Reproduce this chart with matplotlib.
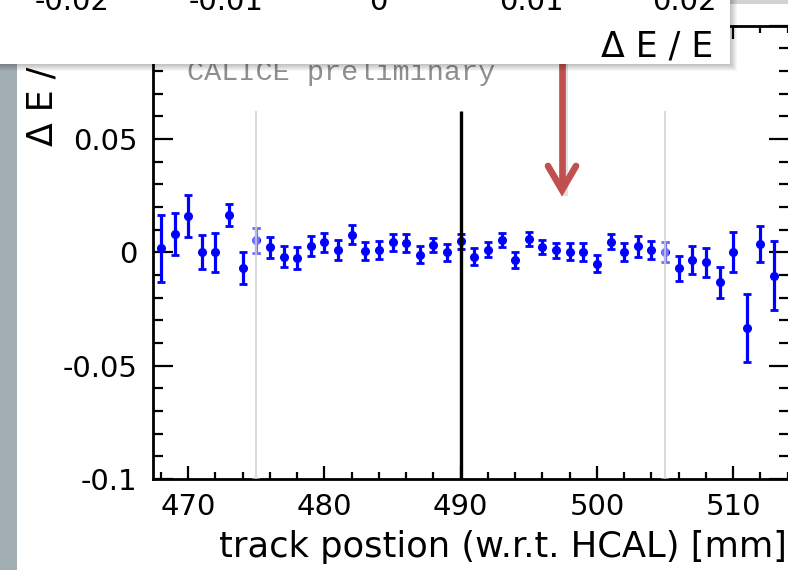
import matplotlib
matplotlib.use('Agg')
import matplotlib.pyplot as plt
from matplotlib.patches import Rectangle
from matplotlib.lines import Line2D
from matplotlib.ticker import MultipleLocator

plt.rcParams['font.family'] = ['DejaVu Sans']
plt.rcParams['axes.unicode_minus'] = False

# ---- data ----
positions = list(range(468, 514))
values = [0.0018, 0.0081, 0.0159, 0.0000, 0.0000, 0.0165, -0.0069, 0.0052,
          0.0022, -0.0019, -0.0026, 0.0026, 0.0044, 0.0008, 0.0078, 0.0004,
          0.0010, 0.0043, 0.0040, -0.0010, 0.0033, 0.0000, 0.0049, -0.0019,
          0.0012, 0.0052, -0.0034, 0.0059, 0.0022, 0.0008, 0.0003, 0.0000,
          -0.0051, 0.0047, 0.0000, 0.0026, 0.0010, 0.0000, -0.0071, -0.0034,
          -0.0044, -0.0132, 0.0000, -0.0334, 0.0037, -0.0103]
errors = [0.0147, 0.0092, 0.0092, 0.0074, 0.0087, 0.0049, 0.0070, 0.0055,
          0.0046, 0.0048, 0.0050, 0.0044, 0.0043, 0.0044, 0.0042, 0.0040,
          0.0039, 0.0039, 0.0041, 0.0039, 0.0032, 0.0037, 0.0033, 0.0037,
          0.0033, 0.0031, 0.0036, 0.0031, 0.0031, 0.0032, 0.0039, 0.0039,
          0.0038, 0.0033, 0.0039, 0.0045, 0.0038, 0.0043, 0.0055, 0.0063,
          0.0063, 0.0068, 0.0088, 0.0149, 0.0079, 0.0153]
center_line = 490
edge_lines = [475, 505]
line_top = 0.0625
xtick_vals = [470, 480, 490, 500, 510]
xtick_labels = ['470', '480', '490', '500', '510']
ytick_vals = [-0.1, -0.05, 0, 0.05, 0.1]
ytick_labels = ['-0.1', '-0.05', '0', '0.05', '0.1']
inset_tick_labels = ['-0.02', '-0.01', '0', '0.01', '0.02']

W, H = 788, 570
def fx(px):
    return px / W
def fy(py):
    return 1 - py / H

fig = plt.figure(figsize=(W / 100, H / 100), dpi=100)
fig.patch.set_facecolor('white')

# slide background strip at left
fig.patches.append(Rectangle((0, 0), fx(17), 1, transform=fig.transFigure,
                             facecolor='#a3adb4', edgecolor='none', zorder=-5))
fig.patches.append(Rectangle((fx(730), fy(4)), 1, fy(0) - fy(4), transform=fig.transFigure,
                             facecolor='#cfd3d6', edgecolor='none', zorder=-5))

ax = fig.add_axes([fx(152.7), fy(479), fx(789) - fx(152.7), fy(25.5) - fy(479)])
ax.set_facecolor('white')
ax.set_xlim(467.4, 514.1)
ax.set_ylim(-0.1, 0.1)

ax.errorbar(positions, values, yerr=errors, fmt='o', color='#0000ff',
            markersize=5.5, elinewidth=2.3, capsize=2.6, capthick=2, zorder=3)

# lines
ax.vlines(center_line, -0.1, line_top, color='black', linewidth=2.4, zorder=4)
for xl in edge_lines:
    ax.vlines(xl, -0.1, line_top, color='white', linewidth=5.5, alpha=0.45, zorder=4)
    ax.vlines(xl, -0.1, line_top, color='#cfcfcf', linewidth=1.1, zorder=5)

# ticks
ax.set_xticks(xtick_vals)
ax.set_xticklabels(xtick_labels)
ax.set_yticks(ytick_vals)
ax.set_yticklabels(ytick_labels)
ax.xaxis.set_minor_locator(MultipleLocator(2))
ax.yaxis.set_minor_locator(MultipleLocator(0.01))
ax.tick_params(axis='x', which='major', direction='in', length=9.5, width=1.6,
               top=True, bottom=True, labelsize=21, pad=10)
ax.tick_params(axis='x', which='minor', direction='in', length=5, width=1.6,
               top=True, bottom=True)
ax.tick_params(axis='y', which='major', direction='in', length=14.5, width=1.6,
               left=True, right=True, labelsize=21, pad=11)
ax.tick_params(axis='y', which='minor', direction='in', length=7.5, width=1.6,
               left=True, right=True)
for s in ax.spines.values():
    s.set_linewidth(2)

# axis titles
fig.text(fx(787), fy(557), 'track postion (w.r.t. HCAL) [mm]', ha='right',
         va='baseline', fontsize=25.4)
fig.text(fx(53), fy(146), 'Δ E / E', rotation=90, rotation_mode='anchor',
         ha='left', va='baseline', fontsize=25, zorder=1)

# watermark text
fig.text(fx(187), fy(80), 'CALICE preliminary', family='Liberation Mono',
         fontsize=20.5, color='#8f8f8f', ha='left', va='baseline', zorder=1)

# red arrow
arrow_col = '#c0504d'
fig.add_artist(Line2D([fx(564), fx(564)], [fy(50), fy(192)], transform=fig.transFigure,
                      color='#000000', alpha=0.12, linewidth=5, zorder=6))
fig.add_artist(Line2D([fx(562), fx(562)], [fy(50), fy(189)], transform=fig.transFigure,
                      color=arrow_col, linewidth=4.8, zorder=7, solid_capstyle='butt'))
fig.add_artist(Line2D([fx(548), fx(562), fx(576)], [fy(166), fy(190), fy(166)],
                      transform=fig.transFigure, color=arrow_col, linewidth=4.8,
                      zorder=7, solid_joinstyle='miter', solid_capstyle='round'))

# overlay box with shadow
for i in range(7):
    fig.patches.append(Rectangle((0, fy(64 + i + 1)), fx(730 + i + 1), 1,
                                 transform=fig.transFigure, facecolor='black',
                                 edgecolor='none', alpha=0.035, zorder=9))
fig.patches.append(Rectangle((0, fy(64)), fx(730), 1, transform=fig.transFigure,
                             facecolor='white', edgecolor='none', zorder=10))
inset_x = [72, 226, 378, 531, 684]
for px, lab in zip(inset_x, inset_tick_labels):
    fig.text(fx(px), fy(10), lab, ha='center', va='baseline', fontsize=21, zorder=11)
fig.text(fx(713), fy(57), 'Δ E / E', ha='right', va='baseline', fontsize=25, zorder=11)

fig.savefig('out.png', dpi=100)
